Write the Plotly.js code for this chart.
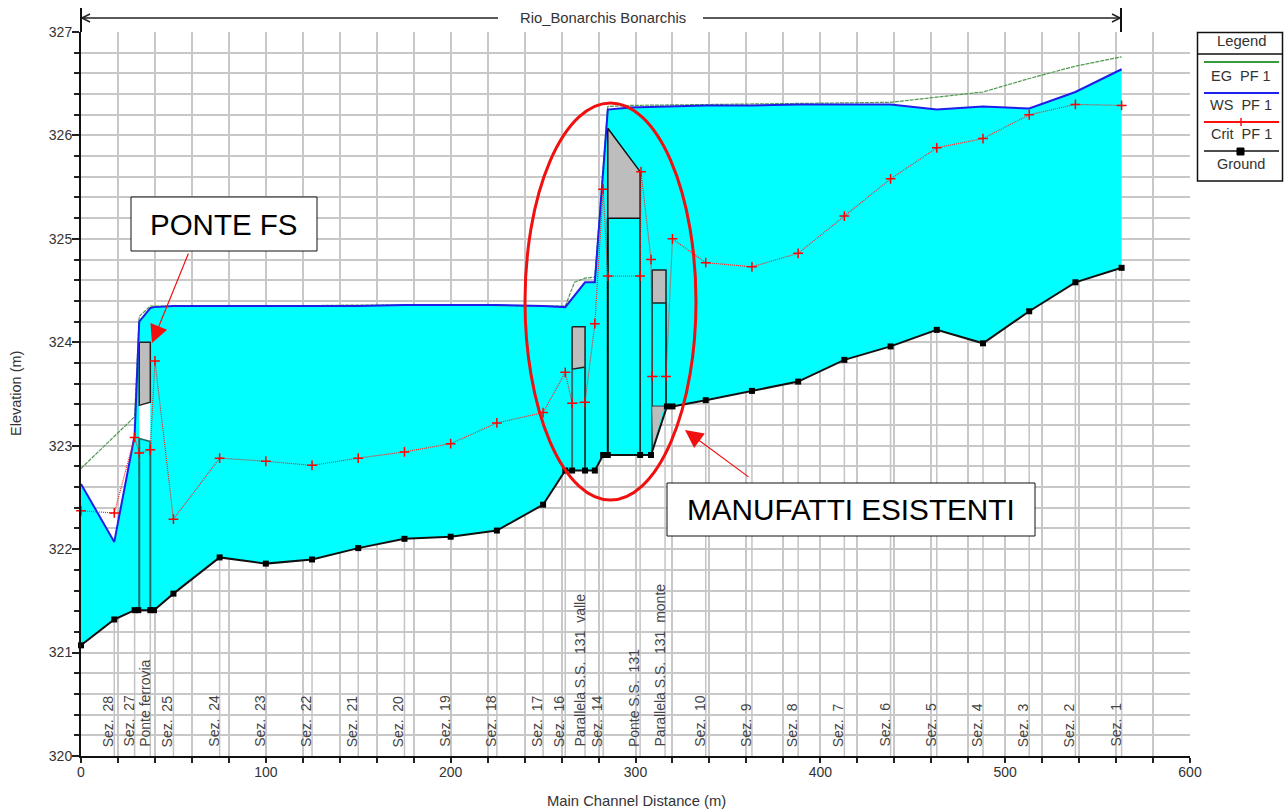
<!DOCTYPE html>
<html><head><meta charset="utf-8">
<script src="https://cdn.plot.ly/plotly-3.0.1.min.js"></script>
<style>html,body{margin:0;padding:0;background:#fff}</style></head>
<body><div id="chart" style="width:1286px;height:809px"></div>
<script>
const groundX=[0,18,29,31,37.5,39.5,50,75,100,125,150,175,200,225,250,262,265.7,272.7,278,282.5,285,302.5,308.4,317,320,338,363,388,413,438,463,488,513,538,563];
const groundY=[321.07,321.32,321.41,321.41,321.41,321.41,321.57,321.92,321.86,321.90,322.01,322.10,322.12,322.18,322.43,322.76,322.76,322.76,322.76,322.91,322.91,322.91,322.91,323.38,323.38,323.44,323.53,323.62,323.83,323.96,324.12,323.99,324.30,324.58,324.72];
const wsX=[0,18,29,31.5,37.5,39.5,50,75,100,125,150,175,200,225,250,262,272.7,278,285,297,338,363,388,413,438,463,488,513,538,563];
const wsY=[322.63,322.07,323.10,324.20,324.33,324.34,324.35,324.35,324.35,324.35,324.35,324.36,324.36,324.36,324.35,324.34,324.58,324.58,326.25,326.27,326.29,326.29,326.30,326.30,326.30,326.25,326.28,326.26,326.42,326.64];
const egX=[0,29,31.5,37.5,50,100,150,200,250,262,267,272.7,278,285,297,338,388,438,463,488,513,538,563];
const egY=[322.78,323.28,324.25,324.35,324.35,324.35,324.36,324.36,324.35,324.35,324.58,324.62,324.63,326.28,326.29,326.30,326.31,326.32,326.37,326.42,326.55,326.67,326.76];
const critX=[0,18,29,31.5,37.5,40,50,75,100,125,150,175,200,225,250,262,265.7,272.7,278,282.5,285,302.5,303,308.4,309,316.5,320,338,363,388,413,438,463,488,513,538,563];
const critY=[322.37,322.35,323.08,322.93,322.96,323.82,322.29,322.88,322.85,322.81,322.88,322.94,323.02,323.22,323.32,323.71,323.41,323.42,324.18,325.48,324.64,324.64,325.65,324.80,323.67,323.67,325.00,324.77,324.73,324.86,325.22,325.58,325.88,325.97,326.20,326.30,326.29];
const sectionLabels=["Sez.  28","Sez.  27","Ponte ferrovia","Sez.  25","Sez.  24","Sez.  23","Sez.  22","Sez.  21","Sez.  20","Sez.  19","Sez.  18","Sez.  17","Sez.  16","Parallela S.S.  131  valle","Sez.  14","Ponte S.S.  131","Parallela S.S.  131  monte","Sez.  10","Sez.  9","Sez.  8","Sez.  7","Sez.  6","Sez.  5","Sez.  4","Sez.  3","Sez.  2","Sez.  1"];
const sectionX=[18,29,37.5,50,75,100,125,150,175,200,225,250,262,272.7,282.5,302.5,316,338,363,388,413,438,463,488,513,538,563];
const deckFerroviaX=[31.5,37.5,37.5,31.5,31.5];
const deckFerroviaY=[324.0,324.0,323.42,323.39,324.0];
const openFerroviaX=[31.5,37.5,37.5,31.5,31.5];
const openFerroviaY=[323.42,323.42,323.04,323.07,323.39];
const deckValleX=[265.7,272.7,272.7,265.7,265.7];
const deckValleY=[324.15,324.15,323.76,323.74,324.15];
const deck131X=[285,302.5,302.5,285,285];
const deck131Y=[326.07,325.65,325.20,325.20,326.07];
const deckMonteX=[309,316.5,316.5,309,309];
const deckMonteY=[324.70,324.70,324.38,324.38,324.70];
const footMonteX=[309,315.5,309.5,309];
const footMonteY=[323.38,323.38,322.98,323.38];
const legendNames=["EG  PF 1","WS  PF 1","Crit  PF 1","Ground"];
const legendColors=["#3a9a3a","#2020ee","#ff1010","#111111"];

const L=81,R=1190,T=32,B=756;
const pxX=p=>(p-L)/(R-L), pxY=p=>(B-p)/(B-T);
const font="Liberation Sans, Arial, sans-serif";

const groundAt=x=>{
  for(let i=1;i<groundX.length;i++){
    if(x<=groundX[i]){const t=(x-groundX[i-1])/(groundX[i]-groundX[i-1]);return groundY[i-1]+t*(groundY[i]-groundY[i-1]);}
  }
  return groundY[groundY.length-1];
};
const stX=[],stY=[];
sectionX.forEach(x=>{stX.push(x,x,null);stY.push(320,groundAt(x),null);});
const piers=(x,y0,y1)=>({x:[x,x],y:[y0,y1]});
const line=(o,c,w)=>Object.assign({type:'scatter',mode:'lines',hoverinfo:'skip',line:{color:c,width:w}},o);
const poly=(x,y,fc,c,w)=>({type:'scatter',mode:'lines',x,y,fill:'toself',fillcolor:fc,hoverinfo:'skip',line:{color:c,width:w}});

const traces=[
 line({x:stX,y:stY,name:'sections'},'#c4c4c4',1.5),
 {type:'scatter',mode:'lines',name:'water',x:wsX.concat(groundX.slice().reverse()),y:wsY.concat(groundY.slice().reverse()),fill:'toself',fillcolor:'#00ffff',line:{width:0,color:'#00ffff'},hoverinfo:'skip'},
 poly(openFerroviaX,openFerroviaY,'#ffffff','rgba(0,0,0,0)',0),
 poly(deckFerroviaX,deckFerroviaY,'#bdbdbd','#222222',1.5),
 line(piers(31.5,323.07,321.41),'#1f6a6a',2),
 line(piers(37.5,323.04,321.41),'#1f6a6a',2),
 line({x:[31.5,37.5],y:[323.07,323.04]},'#1f6a6a',1.5),
 poly(deckValleX,deckValleY,'#bdbdbd','#222222',1.5),
 line(piers(265.7,323.74,322.76),'#2f6f6f',2),
 line(piers(272.7,323.76,322.76),'#1c4a4a',2),
 poly(deck131X,deck131Y,'#bdbdbd','#111111',1.5),
 line(piers(285,325.20,322.91),'#000000',2),
 line(piers(302.5,325.20,322.91),'#111111',1.5),
 poly(deckMonteX,deckMonteY,'#bdbdbd','#222222',1.5),
 line(piers(309,324.38,322.91),'#0b3b3b',1.5),
 line(piers(316.5,324.38,323.38),'#0b3b3b',2),
 line({x:[309,316.5],y:[323.38,323.38]},'#222222',1.5),
 poly(footMonteX,footMonteY,'#bdbdbd','rgba(0,0,0,0)',0),
 {type:'scatter',mode:'lines',name:'EG PF 1',x:egX,y:egY,hoverinfo:'skip',line:{color:'#4f9a4f',width:1.2,dash:'4px,1px'}},
 {type:'scatter',mode:'lines',name:'WS PF 1',x:wsX,y:wsY,hoverinfo:'skip',line:{color:'#1e1ee8',width:2}},
 {type:'scatter',mode:'lines+markers',cliponaxis:false,name:'Crit PF 1',x:critX,y:critY,hoverinfo:'skip',line:{color:'#ff2020',width:1.2,dash:'1px,1px'},marker:{symbol:'cross-thin',size:7,line:{color:'#ff0000',width:1.5}}},
 {type:'scatter',mode:'lines+markers',cliponaxis:false,name:'Ground',x:groundX,y:groundY,hoverinfo:'skip',line:{color:'#111111',width:2},marker:{symbol:'square',size:6,color:'#000000'}}
];

const shapes=[];
const ann=[];
const pLine=(x0,y0,x1,y1,c,w)=>shapes.push({type:'line',xref:'paper',yref:'paper',x0:pxX(x0),x1:pxX(x1),y0:pxY(y0),y1:pxY(y1),line:{color:c,width:w}});
const pRect=(x0,y0,x1,y1,c,w,f)=>shapes.push({type:'rect',xref:'paper',yref:'paper',x0:pxX(x0),x1:pxX(x1),y0:pxY(y0),y1:pxY(y1),line:{color:c,width:w},fillcolor:f});
const pText=(t,cx,cy,size,c,extra)=>ann.push(Object.assign({text:t,xref:'paper',yref:'paper',x:pxX(cx),y:pxY(cy),showarrow:false,xanchor:'center',yanchor:'middle',font:{family:font,size:size,color:c}},extra||{}));

// top banner
pLine(81,8,81,32,'#111',2);
pLine(1121,8,1121,32,'#111',2);
pLine(84,18,498,18,'#222',1.5);
pLine(703,18,1118,18,'#222',1.5);
pLine(82,18,90,14,'#222',1.5);pLine(82,18,90,22,'#222',1.5);
pLine(1120,18,1112,14,'#222',1.5);pLine(1120,18,1112,22,'#222',1.5);
pText('Rio_Bonarchis Bonarchis',602.5,18.5,14.8,'#333');

// section labels
sectionLabels.forEach((t,i)=>ann.push({text:t,xref:'x',yref:'paper',x:sectionX[i],y:pxY(749),xshift:-6,showarrow:false,textangle:-90,xanchor:'center',yanchor:'bottom',font:{family:font,size:14,color:'#444'}}));

// legend
pRect(1197.5,32.5,1282.5,181,'#111',1.5,'#fff');
pLine(1197.5,54,1282.5,54,'#111',1.5);
pText('Legend',1241,41.5,14.8,'#333');
const lineYs=[62,93,122,151], textYs=[76,105,134,164];
legendNames.forEach((n,i)=>{
  pLine(1204,lineYs[i],1279,lineYs[i],legendColors[i],i===3?1.5:2);
  pText(n,1241,textYs[i],14.5,'#333');
});
pLine(1241,118,1241,126,'#ff1010',1.5);
pRect(1237,148,1244,155,'#000',1,'#000');

// callouts
shapes.push({type:'circle',xref:'paper',yref:'paper',x0:pxX(525),x1:pxX(696),y0:pxY(500),y1:pxY(103),line:{color:'#f01010',width:3}});
pRect(131,197,317,251,'#111',1,'#fff');
pRect(667,483,1035,536,'#111',1,'#fff');
pText('PONTE FS',224,225,29.5,'#000');
pText('MANUFATTI ESISTENTI',851,509,29.7,'#000');
ann.push({text:'',xref:'paper',yref:'paper',x:pxX(152),y:pxY(343),ax:37,ay:-91,showarrow:true,arrowhead:2,arrowsize:3,arrowwidth:1.2,arrowcolor:'#f01010',standoff:0});
ann.push({text:'',xref:'paper',yref:'paper',x:pxX(685),y:pxY(430),ax:65,ay:48,showarrow:true,arrowhead:2,arrowsize:3,arrowwidth:1.2,arrowcolor:'#f01010',standoff:0});

// axis titles
pText('Main Channel Distance (m)',636,800.5,14.8,'#333');
pText('Elevation (m)',16,394,14.5,'#333',{textangle:-90});

const layout={
 width:1286,height:809,paper_bgcolor:'#fff',plot_bgcolor:'#fff',showlegend:false,
 margin:{l:L,r:1286-R,t:T,b:809-B,pad:0},
 font:{family:font,color:'#333'},
 xaxis:{range:[0,600],tick0:0,dtick:100,ticks:'outside',ticklen:5,ticklabelstandoff:-3,tickwidth:1.5,tickcolor:'#222',showline:true,linecolor:'#111',linewidth:2,showgrid:true,gridcolor:'#c8c8c8',gridwidth:1.5,zeroline:false,tickfont:{family:font,size:14,color:'#333'},
   minor:{dtick:20,tick0:0,showgrid:true,gridcolor:'#c8c8c8',gridwidth:1.5,ticks:'outside',ticklen:5,tickwidth:1.5,tickcolor:'#222'}},
 yaxis:{range:[320,327],tick0:320,dtick:1,ticks:'outside',ticklen:7,ticklabelstandoff:-3,tickwidth:1.5,tickcolor:'#222',showline:true,linecolor:'#111',linewidth:2,showgrid:true,gridcolor:'#c8c8c8',gridwidth:1.5,zeroline:false,tickfont:{family:font,size:14,color:'#333'},
   minor:{dtick:0.2,tick0:320,showgrid:true,gridcolor:'#c8c8c8',gridwidth:1.5,ticks:'outside',ticklen:5,tickwidth:1.5,tickcolor:'#222'}},
 shapes,annotations:ann
};
Plotly.newPlot('chart',traces,layout,{displayModeBar:false,responsive:false});
</script></body></html>
